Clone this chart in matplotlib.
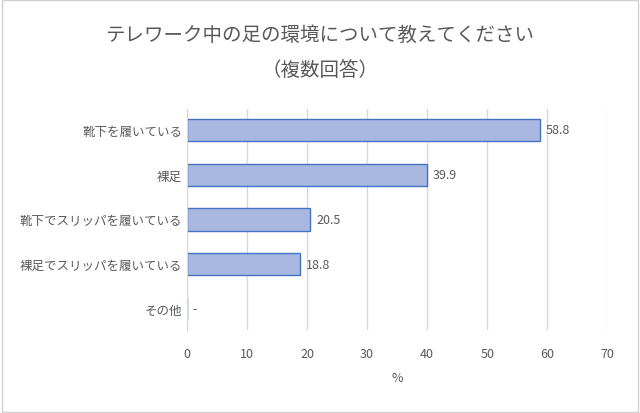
import matplotlib
matplotlib.use("Agg")
import matplotlib.pyplot as plt
from matplotlib.patches import Rectangle

categories = ["靴下を履いている", "裸足", "靴下でスリッパを履いている", "裸足でスリッパを履いている", "その他"]
values = [58.8, 39.9, 20.5, 18.8, 0]
value_labels = ["58.8", "39.9", "20.5", "18.8", "-"]
xticks = [0, 10, 20, 30, 40, 50, 60, 70]

plt.rcParams["font.family"] = "Noto Sans CJK JP"
fig = plt.figure(figsize=(6.4, 4.14), dpi=100)
fig.patches.append(Rectangle((0.003, 0.003), 0.994, 0.994, transform=fig.transFigure,
                             fill=False, edgecolor="#d0d0d0", lw=1))
ax = fig.add_axes([0.292, 0.2, 0.657, 0.535])
y = list(range(len(categories)))
ax.barh(y, values, height=0.5, color="#a9b8e0", edgecolor="#4472c4", lw=1)
for yi, v, lab in zip(y, values, value_labels):
    ax.text(v + 1, yi, lab, va="center", ha="left", fontsize=9, color="#595959")
ax.set_yticks(y)
ax.set_yticklabels(categories, fontsize=9, color="#595959")
ax.invert_yaxis()
ax.set_xlim(0, 70)
ax.set_xticks(xticks)
ax.tick_params(axis="x", labelsize=9, colors="#595959", length=0, pad=12)
ax.tick_params(axis="y", length=0)
ax.grid(axis="x", color="#d9d9d9", lw=1)
ax.set_axisbelow(True)
for s in ["top", "right", "bottom"]:
    ax.spines[s].set_visible(False)
ax.spines["left"].set_color("#d9d9d9")
ax.set_xlabel("%", fontsize=9, color="#595959", labelpad=8)
fig.text(0.5, 0.915, "テレワーク中の足の環境について教えてください", ha="center", va="center",
         fontsize=14, color="#595959")
fig.text(0.5, 0.83, "（複数回答）", ha="center", va="center", fontsize=14, color="#595959")
fig.savefig("out.png", dpi=100)
